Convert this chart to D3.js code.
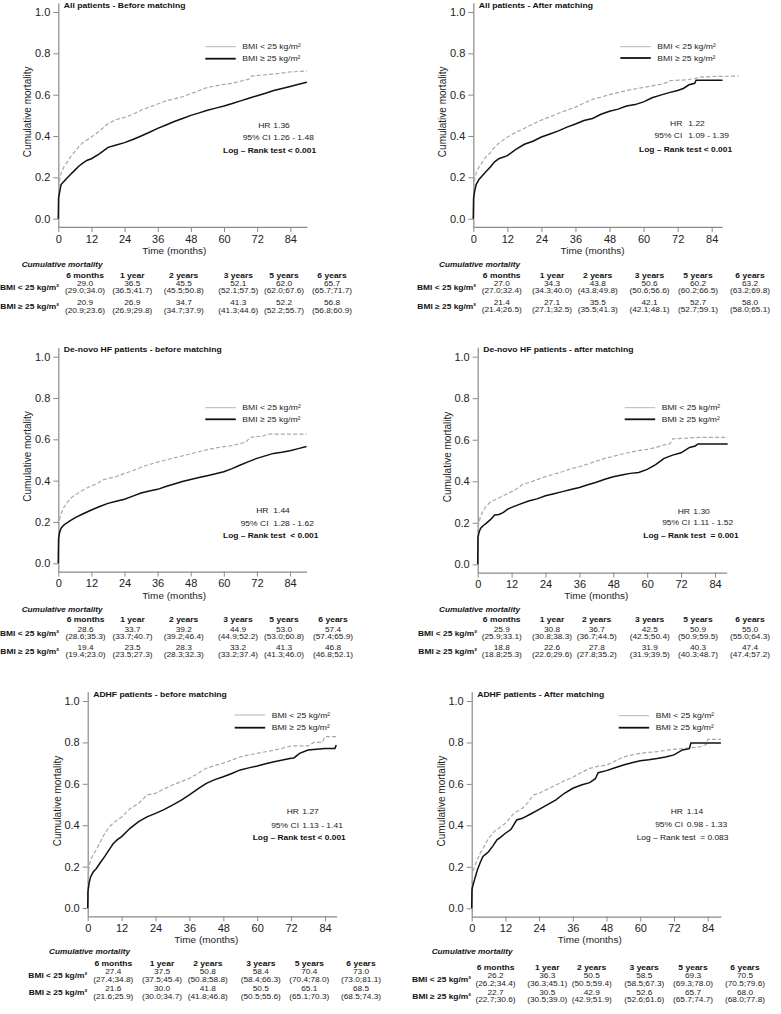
<!DOCTYPE html>
<html>
<head>
<meta charset="utf-8">
<script src="https://cdn.jsdelivr.net/npm/d3@7"></script>
<style>
  html,body{margin:0;padding:0;background:#fff;}
  svg{display:block;font-family:"Liberation Sans",Arial,Helvetica,sans-serif;}
  .axis .domain{stroke:#8a8a8a;stroke-width:1.2;}
  .axis line{stroke:#8a8a8a;stroke-width:1;}
  .axis text{font-size:11px;fill:#222;font-family:"Liberation Sans",Arial,sans-serif;}
  text{white-space:pre;}
</style>
</head>
<body>
<svg id="chart" width="781" height="1014"></svg>
<script>
// ---------------- DATA ----------------
const yTicks = [0, 0.2, 0.4, 0.6, 0.8, 1.0];
const xTicks = [0, 12, 24, 36, 48, 60, 72, 84];
const colLabels = ["6 months", "1 year", "2 years", "3 years", "5 years", "6 years"];
const groupLabels = ["BMI < 25 kg/m\u00B2", "BMI \u2265 25 kg/m\u00B2"];
const titles = [
  "All patients - Before matching",
  "All patients - After matching",
  "De-novo HF patients - before matching",
  "De-novo HF patients - after matching",
  "ADHF patients - before matching",
  "ADHF patients - After matching"
];
const hrValues = ["1.36", "1.22", "1.44", "1.30", "1.27", "1.14"];
const ciValues = ["1.26 - 1.48", "1.09 - 1.39", "1.28 - 1.62", "1.11 - 1.52", "1.13 - 1.41", "0.98 - 1.33"];
const logRank = ["Log \u2013 Rank test < 0.001", "Log \u2013 Rank test < 0.001", "Log \u2013 Rank test  < 0.001",
                 "Log \u2013 Rank test  = 0.001", "Log \u2013 Rank test < 0.001", "Log \u2013 Rank test  = 0.083"];
const logRankBold = [true, true, true, true, true, false];

// Kaplan-Meier cumulative mortality curves [months, value]
const allBeforeUnder = [[0,0],[0.15,0.15],[0.5,0.19],[1,0.22],[2,0.25],[3,0.27],[4.5,0.30],[6,0.325],[7.5,0.35],[9,0.37],[12,0.395],[15,0.425],[18,0.46],[21,0.48],[24,0.49],[27,0.505],[30,0.525],[33,0.54],[36,0.555],[39,0.57],[42,0.58],[45,0.59],[48,0.605],[51,0.62],[54,0.635],[57,0.643],[60,0.65],[63,0.655],[66,0.665],[69,0.675],[70,0.69],[74,0.695],[78,0.70],[84,0.71],[90,0.715]];
const allBeforeOver = [[0,0],[0.1,0.10],[0.5,0.13],[1,0.165],[2,0.18],[3,0.195],[4.5,0.215],[6,0.235],[7.5,0.255],[9,0.27],[10.5,0.283],[12,0.29],[15,0.315],[18,0.345],[21,0.357],[24,0.368],[27,0.383],[30,0.40],[33,0.418],[36,0.437],[39,0.453],[42,0.47],[45,0.485],[48,0.50],[51,0.512],[54,0.525],[57,0.535],[60,0.545],[63,0.557],[66,0.57],[69,0.583],[72,0.595],[75,0.607],[78,0.62],[81,0.63],[84,0.64],[87,0.65],[90,0.66]];
const allAfterUnder = [[0,0],[0.15,0.15],[0.5,0.19],[1,0.22],[2,0.25],[3,0.27],[4.5,0.30],[6,0.32],[6.8,0.335],[9,0.365],[12,0.395],[15,0.418],[18,0.437],[21,0.458],[24,0.477],[27,0.493],[30,0.51],[33,0.525],[36,0.54],[39,0.56],[42,0.577],[45,0.588],[48,0.60],[51,0.61],[54,0.62],[57,0.628],[60,0.635],[63,0.643],[66,0.65],[68,0.658],[69.5,0.668],[75,0.672],[78,0.678],[80,0.685],[84,0.688],[93.4,0.69]];
const allAfterOver = [[0,0],[0.1,0.10],[0.5,0.135],[1,0.165],[2,0.19],[3,0.205],[4.5,0.228],[6,0.25],[7.5,0.275],[9,0.29],[12,0.305],[15,0.335],[18,0.36],[21,0.375],[24,0.395],[27,0.41],[30,0.425],[33,0.443],[36,0.458],[39,0.475],[42,0.485],[45,0.505],[48,0.52],[51,0.53],[54,0.545],[57,0.552],[60,0.565],[63,0.585],[66,0.598],[69,0.61],[72,0.62],[74,0.63],[76,0.648],[78,0.655],[78.5,0.67],[87.8,0.67]];
const deNovoBeforeUnder = [[0,0],[0.15,0.19],[0.5,0.215],[1,0.24],[2,0.27],[3,0.29],[4.5,0.315],[6,0.33],[9,0.355],[12,0.375],[14,0.385],[16,0.403],[18,0.41],[21,0.42],[24,0.435],[27,0.448],[30,0.465],[33,0.478],[36,0.49],[39,0.5],[42,0.51],[45,0.52],[48,0.53],[51,0.54],[54,0.55],[57,0.558],[60,0.565],[63,0.57],[66,0.58],[68,0.585],[69.5,0.61],[74,0.615],[76,0.625],[90,0.625]];
const deNovoBeforeOver = [[0,0],[0.1,0.12],[0.5,0.15],[1,0.17],[2,0.185],[3,0.195],[4.5,0.208],[6,0.22],[9,0.24],[12,0.258],[15,0.275],[18,0.29],[21,0.30],[24,0.31],[27,0.325],[30,0.34],[33,0.35],[36,0.358],[39,0.372],[42,0.384],[45,0.396],[48,0.406],[51,0.415],[54,0.424],[57,0.433],[60,0.443],[63,0.458],[66,0.476],[69,0.492],[72,0.508],[75,0.52],[78,0.532],[81,0.537],[84,0.545],[87,0.555],[90,0.565]];
const deNovoAfterUnder = [[0,0],[0.15,0.18],[0.5,0.205],[1,0.23],[2,0.26],[3,0.28],[4.5,0.30],[6,0.31],[9,0.33],[12,0.35],[14,0.365],[16,0.387],[18,0.393],[21,0.408],[24,0.422],[27,0.434],[30,0.446],[33,0.46],[36,0.47],[39,0.483],[42,0.497],[45,0.51],[48,0.52],[51,0.53],[54,0.54],[57,0.548],[60,0.554],[63,0.562],[66,0.575],[68,0.58],[69,0.604],[78,0.611],[88.5,0.611]];
const deNovoAfterOver = [[0,0],[0.1,0.13],[0.5,0.155],[1,0.173],[2,0.187],[3,0.197],[4.5,0.215],[6,0.238],[7.5,0.24],[9,0.249],[10.5,0.265],[12,0.274],[15,0.29],[18,0.305],[21,0.315],[24,0.33],[27,0.34],[30,0.35],[33,0.36],[36,0.37],[39,0.383],[42,0.395],[45,0.41],[48,0.422],[51,0.43],[54,0.438],[57,0.442],[60,0.457],[63,0.48],[66,0.51],[69,0.526],[72,0.537],[73.5,0.55],[75,0.563],[77,0.57],[78,0.58],[88.5,0.58]];
const adhfBeforeUnder = [[0,0],[0.15,0.15],[0.5,0.2],[1,0.23],[2,0.26],[3,0.28],[4.5,0.32],[6,0.36],[7.5,0.39],[9,0.41],[12,0.44],[15,0.48],[18,0.505],[21,0.546],[24,0.554],[27,0.575],[30,0.594],[33,0.61],[36,0.626],[39,0.65],[42,0.675],[45,0.688],[48,0.70],[51,0.715],[54,0.73],[57,0.74],[60,0.747],[63,0.755],[66,0.763],[69,0.772],[72,0.783],[78,0.783],[80,0.80],[83,0.80],[84,0.828],[88,0.828]];
const adhfBeforeOver = [[0,0],[0.1,0.08],[0.5,0.12],[1,0.15],[2,0.175],[3,0.19],[4.5,0.22],[6,0.248],[7.5,0.28],[9,0.31],[10.5,0.33],[12,0.345],[15,0.385],[18,0.417],[21,0.44],[24,0.457],[27,0.475],[30,0.497],[33,0.52],[36,0.546],[39,0.575],[42,0.602],[45,0.62],[48,0.634],[51,0.65],[54,0.667],[57,0.677],[60,0.686],[63,0.697],[66,0.707],[69,0.715],[72,0.723],[73,0.725],[75,0.747],[78,0.763],[84,0.771],[87.5,0.771],[88,0.787]];
const adhfAfterUnder = [[0,0],[0.15,0.15],[0.5,0.18],[1,0.2],[2,0.235],[3,0.265],[4.5,0.3],[6,0.338],[8,0.37],[10,0.39],[12,0.41],[15,0.458],[18,0.482],[20,0.51],[22,0.547],[24,0.555],[27,0.575],[30,0.595],[33,0.615],[36,0.632],[39,0.655],[42,0.675],[45,0.685],[48,0.69],[51,0.71],[54,0.73],[57,0.74],[60,0.748],[63,0.752],[66,0.756],[69,0.762],[72,0.767],[75,0.77],[78,0.775],[81,0.778],[83.5,0.79],[84,0.815],[88.7,0.815]];
const adhfAfterOver = [[0,0],[0.1,0.09],[0.5,0.115],[1,0.137],[2,0.185],[3,0.22],[4,0.25],[6,0.273],[7.5,0.3],[9,0.33],[10,0.34],[12,0.362],[14,0.381],[16,0.426],[18,0.434],[21,0.455],[24,0.477],[27,0.5],[30,0.523],[33,0.555],[36,0.579],[39,0.595],[42,0.606],[44,0.625],[45,0.654],[48,0.664],[51,0.678],[54,0.691],[57,0.702],[60,0.712],[63,0.717],[66,0.723],[69,0.73],[72,0.74],[75,0.764],[77.5,0.77],[78,0.797],[88.7,0.797]];

// Cumulative mortality tables (%)
const allBeforeTabUnder = ["29.0","36.5","45.5","52.1","62.0","65.7"];
const allBeforeTabUnderCI = ["(29.0;34.0)","(36.5;41.7)","(45.5;50.8)","(52.1;57.5)","(62.0;67.6)","(65.7;71.7)"];
const allBeforeTabOver = ["20.9","26.9","34.7","41.3","52.2","56.8"];
const allBeforeTabOverCI = ["(20.9;23.6)","(26.9;29.8)","(34.7;37.9)","(41.3;44.6)","(52.2;55.7)","(56.8;60.9)"];
const allAfterTabUnder = ["27.0","34.3","43.8","50.6","60.2","63.2"];
const allAfterTabUnderCI = ["(27.0;32.4)","(34.3;40.0)","(43.8;49.8)","(50.6;56.6)","(60.2;66.5)","(63.2;69.8)"];
const allAfterTabOver = ["21.4","27.1","35.5","42.1","52.7","58.0"];
const allAfterTabOverCI = ["(21.4;26.5)","(27.1;32.5)","(35.5;41.3)","(42.1;48.1)","(52.7;59.1)","(58.0;65.1)"];
const deNovoBeforeTabUnder = ["28.6","33.7","39.2","44.9","53.0","57.4"];
const deNovoBeforeTabUnderCI = ["(28.6;35.3)","(33.7;40.7)","(39.2;46.4)","(44.9;52.2)","(53.0;60.8)","(57.4;65.9)"];
const deNovoBeforeTabOver = ["19.4","23.5","28.3","33.2","41.3","46.8"];
const deNovoBeforeTabOverCI = ["(19.4;23.0)","(23.5;27.3)","(28.3;32.3)","(33.2;37.4)","(41.3;46.0)","(46.8;52.1)"];
const deNovoAfterTabUnder = ["25.9","30.8","36.7","42.5","50.9","55.0"];
const deNovoAfterTabUnderCI = ["(25.9;33.1)","(30.8;38.3)","(36.7;44.5)","(42.5;50.4)","(50.9;59.5)","(55.0;64.3)"];
const deNovoAfterTabOver = ["18.8","22.6","27.8","31.9","40.3","47.4"];
const deNovoAfterTabOverCI = ["(18.8;25.3)","(22.6;29.6)","(27.8;35.2)","(31.9;39.5)","(40.3;48.7)","(47.4;57.2)"];
const adhfBeforeTabUnder = ["27.4","37.5","50.8","58.4","70.4","73.0"];
const adhfBeforeTabUnderCI = ["(27.4;34.8)","(37.5;45.4)","(50.8;58.8)","(58.4;66.3)","(70.4;78.0)","(73.0;81.1)"];
const adhfBeforeTabOver = ["21.6","30.0","41.8","50.5","65.1","68.5"];
const adhfBeforeTabOverCI = ["(21.6;25.9)","(30.0;34.7)","(41.8;46.8)","(50.5;55.6)","(65.1;70.3)","(68.5;74.3)"];
const adhfAfterTabUnder = ["26.2","36.3","50.5","58.5","69.3","70.5"];
const adhfAfterTabUnderCI = ["(26.2;34.4)","(36.3;45.1)","(50.5;59.4)","(58.5;67.3)","(69.3;78.0)","(70.5;79.6)"];
const adhfAfterTabOver = ["22.7","30.5","42.9","52.6","65.7","68.0"];
const adhfAfterTabOverCI = ["(22.7;30.6)","(30.5;39.0)","(42.9;51.9)","(52.6;61.6)","(65.7;74.7)","(68.0;77.8)"];

// ---------------- LAYOUT ----------------
const FONT = '"Liberation Sans",Arial,Helvetica,sans-serif';
const panels = [
  {left:58.3, x84:290.3, y1:12, y0:218.7, xEnd:90,
   under:allBeforeUnder, over:allBeforeOver,
   leg:[46.7,58.7], stat:{lr:270.5, vl:273.3, y:[125.3,137.3,150], lrx:223},
   tab:{cols:[85,132.3,183.7,238.3,284,332], labR:59, cmL:21.7, yCM:265, yHead:275.7, yR:[283.3,302.7]},
   tabData:[allBeforeTabUnder,allBeforeTabUnderCI,allBeforeTabOver,allBeforeTabOverCI], timeY:251},
  {left:473.3, x84:711.7, y1:12, y0:218.7, xEnd:87.7,
   under:allAfterUnder, over:allAfterOver,
   leg:[46.7,58], stat:{lr:682.3, vl:688.3, y:[123.7,135.7,149.7], lrx:639},
   tab:{cols:[501.7,552,597.7,649.5,698,750], labR:476, cmL:439, yCM:265, yHead:275.3, yR:[283.3,302.3]},
   tabData:[allAfterTabUnder,allAfterTabUnderCI,allAfterTabOver,allAfterTabOverCI], timeY:251},
  {left:58.3, x84:290, y1:356.7, y0:563.3, xEnd:90,
   under:deNovoBeforeUnder, over:deNovoBeforeOver,
   leg:[407.7,419.3], stat:{lr:268.5, vl:273.3, y:[510,523.3,535.7], lrx:223},
   tab:{cols:[85.5,132.5,183.7,238,284,333], labR:59, cmL:21.7, yCM:610, yHead:620, yR:[629.3,647.3]},
   tabData:[deNovoBeforeTabUnder,deNovoBeforeTabUnderCI,deNovoBeforeTabOver,deNovoBeforeTabOverCI], timeY:595.5},
  {left:477.7, x84:715, y1:356.7, y0:564.3, xEnd:88.1,
   under:deNovoAfterUnder, over:deNovoAfterOver,
   leg:[407.7,419.3], stat:{lr:690, vl:693.3, y:[511,522.3,535.7], lrx:643.3},
   tab:{cols:[501.7,552,596.7,649.7,698,750], labR:477, cmL:439, yCM:610, yHead:620, yR:[629.3,647.3]},
   tabData:[deNovoAfterTabUnder,deNovoAfterTabUnderCI,deNovoAfterTabOver,deNovoAfterTabOverCI], timeY:595.5},
  {left:87.7, x84:325, y1:701, y0:908, xEnd:88.1,
   under:adhfBeforeUnder, over:adhfBeforeOver,
   leg:[715,727.7], stat:{lr:299, vl:302.3, y:[811.7,825,837.7], lrx:252.7},
   tab:{cols:[113.3,162,207.8,260.8,309.3,361], labR:87.3, cmL:49, yCM:951.7, yHead:963.3, yR:[971.7,989]},
   tabData:[adhfBeforeTabUnder,adhfBeforeTabUnderCI,adhfBeforeTabOver,adhfBeforeTabOverCI], timeY:940},
  {left:471.7, x84:707.7, y1:701, y0:908.3, xEnd:88.7,
   under:adhfAfterUnder, over:adhfAfterOver,
   leg:[715.7,727.7], stat:{lr:683, vl:686.7, y:[811.7,824,837.7], lrx:636.7},
   tab:{cols:[495.5,547.3,591.7,644.2,693,745], labR:471, cmL:431.7, yCM:951.7, yHead:967.3, yR:[975.7,992.3]},
   tabData:[adhfAfterTabUnder,adhfAfterTabUnderCI,adhfAfterTabOver,adhfAfterTabOverCI], timeY:940}
];

const svg = d3.select("#chart");

// text helper; sy < 1 compresses glyphs vertically (as in the reference's squeezed table text)
function txt(g, x, y, s, opts) {
  opts = opts || {};
  const sy = opts.sy || 1;
  return g.append("text")
    .attr("transform", `translate(${x},${y}) scale(1,${sy})`)
    .attr("x", 0).attr("y", 0).attr("dy", "0.35em")
    .attr("text-anchor", opts.anchor || "start")
    .attr("font-size", opts.size || 8.5)
    .attr("font-weight", opts.bold ? "bold" : "normal")
    .attr("font-style", opts.italic ? "italic" : "normal")
    .attr("fill", opts.fill || "#1a1a1a")
    .attr("font-family", FONT)
    .text(s);
}

panels.forEach((p, i) => {
  const g = svg.append("g");
  const k = p.y0 - p.y1;
  const y = d3.scaleLinear().domain([-0.04, 1.045]).range([p.y0 + 0.04 * k, p.y1 - 0.045 * k]);
  const xr = p.left + (p.x84 - p.left) * p.xEnd / 84;
  const x = d3.scaleLinear().domain([0, p.xEnd]).range([p.left, xr]);

  g.append("g").attr("class", "axis")
    .attr("transform", `translate(${p.left},0)`)
    .call(d3.axisLeft(y).tickValues(yTicks).tickFormat(d3.format(".1f")).tickSize(5).tickSizeOuter(0));
  g.append("g").attr("class", "axis")
    .attr("transform", `translate(0,${y(-0.04)})`)
    .call(d3.axisBottom(x).tickValues(xTicks).tickFormat(d3.format("d")).tickSize(5).tickSizeOuter(0));

  // axis titles
  txt(g, (x(0) + x(84)) / 2, p.timeY, "Time (months)", {anchor: "middle", size: 10, fill: "#222", sy: 0.95});
  g.append("text")
    .attr("transform", `translate(${p.left - 30.5},${(p.y0 + p.y1) / 2 - 3.5}) rotate(-90)`)
    .attr("dy", "0.35em").attr("text-anchor", "middle")
    .attr("font-size", 10).attr("fill", "#222").attr("font-family", FONT)
    .text("Cumulative mortality");

  // title
  txt(g, p.left + 5.5, p.y1 - 7, titles[i], {bold: true, size: 8.6, fill: "#111", sy: 0.92});

  // curves
  const line = d3.line().x(d => x(d[0])).y(d => y(d[1])).curve(d3.curveLinear);
  g.append("path").datum(p.under).attr("d", line)
    .attr("fill", "none").attr("stroke", "#a8a8a8").attr("stroke-width", 1.2)
    .attr("stroke-dasharray", "4,2.2");
  g.append("path").datum(p.over).attr("d", line)
    .attr("fill", "none").attr("stroke", "#111").attr("stroke-width", 1.5);

  // legend
  const lx = p.left + 147;
  g.append("line").attr("x1", lx).attr("x2", lx + 30.5).attr("y1", p.leg[0]).attr("y2", p.leg[0])
    .attr("stroke", "#b5b5b5").attr("stroke-width", 1);
  g.append("line").attr("x1", lx).attr("x2", lx + 30.5).attr("y1", p.leg[1]).attr("y2", p.leg[1])
    .attr("stroke", "#111").attr("stroke-width", 1.8);
  txt(g, p.left + 184, p.leg[0], groupLabels[0], {size: 8.6, fill: "#222", sy: 0.9});
  txt(g, p.left + 184, p.leg[1], groupLabels[1], {size: 8.6, fill: "#222", sy: 0.9});

  // stats
  const s = p.stat;
  txt(g, s.lr, s.y[0], "HR", {anchor: "end", size: 8.5, fill: "#222", sy: 0.9});
  txt(g, s.vl, s.y[0], hrValues[i], {size: 8.5, fill: "#222", sy: 0.9});
  txt(g, s.lr, s.y[1], "95% CI", {anchor: "end", size: 8.5, fill: "#222", sy: 0.9});
  txt(g, s.vl, s.y[1], ciValues[i], {size: 8.5, fill: "#222", sy: 0.9});
  txt(g, s.lrx, s.y[2], logRank[i], {size: 8.4, bold: logRankBold[i], fill: "#111", sy: 0.9});

  // table
  const t = p.tab, TS = 0.78;
  txt(g, t.cmL, t.yCM, "Cumulative mortality", {bold: true, italic: true, size: 8.2, fill: "#111", sy: 0.85});
  colLabels.forEach((c, j) => txt(g, t.cols[j], t.yHead, c, {anchor: "middle", bold: true, size: 8.5, fill: "#111", sy: TS}));
  [0, 1].forEach(r => {
    txt(g, t.labR, t.yR[r] + 3.7, groupLabels[r], {anchor: "end", bold: true, size: 8.4, fill: "#111", sy: 0.85});
    const vals = p.tabData[r * 2], cis = p.tabData[r * 2 + 1];
    vals.forEach((v, j) => txt(g, t.cols[j], t.yR[r], v, {anchor: "middle", size: 8.3, fill: "#222", sy: TS}));
    cis.forEach((v, j) => txt(g, t.cols[j], t.yR[r] + 7.6, v, {anchor: "middle", size: 8.3, fill: "#222", sy: TS}));
  });
});
</script>
</body>
</html>
